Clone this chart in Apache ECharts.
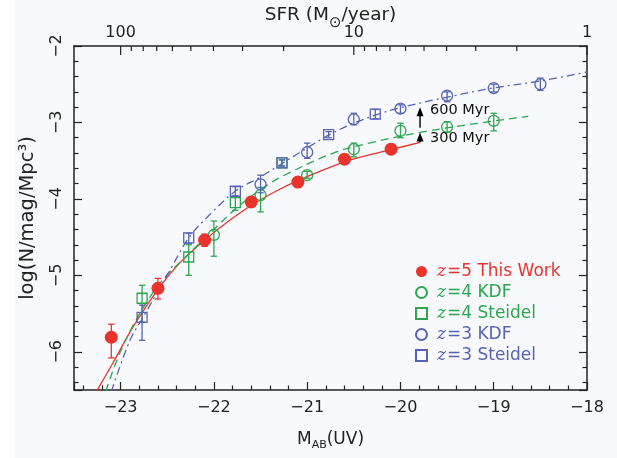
<!DOCTYPE html>
<html><head><meta charset="utf-8">
<script src="https://cdn.jsdelivr.net/npm/echarts@6/dist/echarts.min.js"></script>
<style>html,body{margin:0;padding:0;background:#f8f9fd}#c{width:617px;height:458px}</style>
</head><body><div id="c"></div>
<script>
// ---- axis ranges & ticks ----
const xMin = -23.5, xMax = -18;
const yMin = -6.5, yMax = -2;
const sfrMin = 1, sfrMax = 158.5;
const sfrTicks = [1,2,3,4,5,6,7,8,9,10,20,30,40,50,60,70,80,90,100];
const sfrLabels = [1,10,100];

// ---- z=5 This Work (red filled circles) ----
const red_M    = [-23.1, -22.6, -22.1, -21.6, -21.1, -20.6, -20.1];
const red_logN = [-5.81, -5.17, -4.54, -4.04, -3.78, -3.48, -3.35];
const red_lo   = [-6.08, -5.31, -4.62, -4.10, -3.83, -3.53, -3.40];
const red_hi   = [-5.64, -5.04, -4.46, -3.98, -3.73, -3.43, -3.30];

// ---- z=4 KDF (green circles) ----
const g4k_M    = [-22.0, -21.5, -21.0, -20.5, -20.0, -19.5, -19.0];
const g4k_logN = [-4.47, -3.95, -3.69, -3.35, -3.11, -3.06, -2.98];
const g4k_lo   = [-4.75, -4.17, -3.73, -3.45, -3.20, -3.13, -3.11];
const g4k_hi   = [-4.29, -3.85, -3.64, -3.27, -3.01, -2.99, -2.88];

// ---- z=4 Steidel (green squares) ----
const g4s_M    = [-22.77, -22.27, -21.77, -21.27];
const g4s_logN = [-5.30, -4.76, -4.05, -3.53];
const g4s_lo   = [-5.61, -5.00, -4.15, -3.57];
const g4s_hi   = [-5.13, -4.60, -3.97, -3.49];

// ---- z=3 KDF (blue circles) ----
const b3k_M    = [-21.5, -21.0, -20.5, -20.0, -19.5, -19.0, -18.5];
const b3k_logN = [-3.81, -3.39, -2.96, -2.82, -2.65, -2.55, -2.50];
const b3k_lo   = [-3.92, -3.47, -3.03, -2.88, -2.73, -2.60, -2.58];
const b3k_hi   = [-3.69, -3.27, -2.88, -2.77, -2.60, -2.50, -2.42];

// ---- z=3 Steidel (blue squares) ----
const b3s_M    = [-22.77, -22.27, -21.77, -21.27, -20.77, -20.27];
const b3s_logN = [-5.55, -4.51, -3.90, -3.53, -3.16, -2.89];
const b3s_lo   = [-5.85, -4.58, -3.96, -3.57, -3.20, -2.95];
const b3s_hi   = [-5.39, -4.45, -3.84, -3.49, -3.12, -2.83];

// ---- fitted curves ----
const fitRed_M    = [-23.26, -23.08, -22.87, -22.58, -22.36, -22.07, -21.83, -21.58, -21.29, -21.08, -20.56, -20.08, -19.79];
const fitRed_logN = [-6.52, -6.14, -5.68, -5.15, -4.83, -4.51, -4.28, -4.07, -3.87, -3.75, -3.50, -3.35, -3.26];
const fitGreen_M    = [-23.16, -23.01, -22.79, -22.55, -22.26, -22.01, -21.72, -21.43, -21.26, -20.72, -20.30, -19.79, -19.22, -18.63];
const fitGreen_logN = [-6.52, -6.02, -5.49, -5.06, -4.71, -4.41, -4.08, -3.82, -3.70, -3.40, -3.26, -3.13, -3.02, -2.92];
const fitBlue_M    = [-23.10, -22.90, -22.76, -22.47, -22.27, -22.04, -21.76, -21.51, -21.26, -20.97, -20.76, -20.54, -20.26, -20.01, -19.58, -19.01, -18.51, -18.00];
const fitBlue_logN = [-6.52, -5.85, -5.55, -4.93, -4.51, -4.20, -3.89, -3.72, -3.53, -3.31, -3.16, -3.03, -2.90, -2.81, -2.69, -2.55, -2.46, -2.34];

// ---- age arrows ----
const arrow_M     = [-19.79, -19.79];
const arrow_from  = [-3.26, -3.07];
const arrow_to    = [-3.13, -2.80];
const arrow_text  = ['300 Myr', '600 Myr'];
const arrow_textY = [-3.21, -2.84];

// ---- styling ----
const RED = '#e8342c', GREEN = '#2ca64e', BLUE = '#5763b2', INK = '#222';
const FONT = "'DejaVu Sans', sans-serif";

const zip2 = (a, b) => a.map((v, i) => [v, b[i]]);
const zip3 = (a, b, c) => a.map((v, i) => [v, b[i], c[i]]);
const minus = v => (v < 0 ? '\u2212' : '') + Math.abs(v);

function errSeries(M, lo, hi, color) {
  return {
    type: 'custom', xAxisIndex: 0, yAxisIndex: 0, z: 4,
    data: zip3(M, lo, hi), encode: {x: 0, y: [1, 2]},
    renderItem: (params, api) => {
      const x = api.value(0);
      const a = api.coord([x, api.value(2)]);
      const b = api.coord([x, api.value(1)]);
      const w = 3.2;
      const st = {stroke: color, lineWidth: 1.3};
      return {type: 'group', children: [
        {type: 'line', shape: {x1: a[0], y1: a[1], x2: b[0], y2: b[1]}, style: st},
        {type: 'line', shape: {x1: a[0] - w, y1: a[1], x2: a[0] + w, y2: a[1]}, style: st},
        {type: 'line', shape: {x1: b[0] - w, y1: b[1], x2: b[0] + w, y2: b[1]}, style: st}
      ]};
    }
  };
}
function fitSeries(M, L, color, type) {
  return {type: 'line', data: zip2(M, L), smooth: 0.35, showSymbol: false, silent: true, z: 2,
    lineStyle: {color: color, width: 1.3, type: type}};
}
function scatter(name, M, L, color, symbol, size, filled) {
  return {type: 'scatter', name: name, data: zip2(M, L), symbol: symbol, symbolSize: size, z: 5,
    itemStyle: filled ? {color: color, opacity: 1} : {color: 'transparent', borderColor: color, borderWidth: 1.3, opacity: 1}};
}

const chart = echarts.init(document.getElementById('c'), null, {renderer: 'canvas'});
const legendKey = {'z=5 This Work': 'r', 'z=4 KDF': 'g', 'z=4 Steidel': 'g', 'z=3 KDF': 'b', 'z=3 Steidel': 'b'};
const rich = {};
[['r', RED], ['g', GREEN], ['b', BLUE]].forEach(([k, c]) => {
  rich['z' + k] = {color: c, fontFamily: "'DejaVu Serif', serif", fontStyle: 'italic', fontSize: 17, padding: [0, 1, 0, 5]};
  rich['t' + k] = {color: c, fontFamily: FONT, fontSize: 17};
});

const option = {
  backgroundColor: '#f8f9fd',
  animation: false,
  graphic: [{type: 'rect', left: 0, top: 0, shape: {width: 15, height: 458}, style: {fill: '#ffffff'}, z: -10}],
  grid: {left: 74, right: 30, top: 46, bottom: 68},
  xAxis: [
    {type: 'value', position: 'bottom', min: xMin, max: xMax, minInterval: 1, maxInterval: 1,
     name: '{a|M}{b|AB}{a|(UV)}', nameLocation: 'middle', nameGap: 41,
     nameTextStyle: {rich: {a: {fontFamily: FONT, fontSize: 17, color: INK, verticalAlign: 'top'},
                            b: {fontFamily: FONT, fontSize: 11, color: INK, verticalAlign: 'top', padding: [9, 0, 0, 0]}}},
     axisLine: {show: true, onZero: false, lineStyle: {color: INK, width: 1.5}},
     axisTick: {show: true, inside: true, length: 8, lineStyle: {color: INK, width: 1.2}},
     minorTick: {show: true, splitNumber: 5, length: 4.5, lineStyle: {color: INK, width: 1.2}},
     splitLine: {show: false}, minorSplitLine: {show: false},
     axisLabel: {showMinLabel: false, margin: 10, fontFamily: FONT, fontSize: 16, color: INK, formatter: minus}},
    {type: 'log', position: 'top', min: sfrMin, max: sfrMax, inverse: true,
     name: '{a|SFR (M}{b|\u2299}{a|/year)}', nameLocation: 'middle', nameGap: 15,
     nameTextStyle: {rich: {a: {fontFamily: FONT, fontSize: 18.5, color: INK, verticalAlign: 'top'},
                            b: {fontFamily: FONT, fontSize: 15, color: INK, verticalAlign: 'top', padding: [10, 0, 0, 0]}}},
     axisLine: {show: true, onZero: false, lineStyle: {color: INK, width: 1.5}},
     axisTick: {show: false}, axisLabel: {show: false}, splitLine: {show: false}}
  ],
  yAxis: [
    {type: 'value', position: 'left', min: yMin, max: yMax, minInterval: 1, maxInterval: 1,
     name: 'log(N/mag/Mpc\u00b3)', nameLocation: 'middle', nameGap: 36, nameRotate: 90,
     nameTextStyle: {fontFamily: FONT, fontSize: 19.5, color: INK},
     axisLine: {show: true, onZero: false, lineStyle: {color: INK, width: 1.5}},
     axisTick: {show: true, inside: true, length: 8, lineStyle: {color: INK, width: 1.2}},
     minorTick: {show: true, splitNumber: 5, length: 4.5, lineStyle: {color: INK, width: 1.2}},
     splitLine: {show: false}, minorSplitLine: {show: false},
     axisLabel: {showMinLabel: false, rotate: 90, margin: 9, fontFamily: FONT, fontSize: 16, color: INK, formatter: minus}},
    {type: 'value', position: 'right', min: yMin, max: yMax, minInterval: 1, maxInterval: 1,
     axisLine: {show: true, onZero: false, lineStyle: {color: INK, width: 1.5}},
     axisTick: {show: true, inside: true, length: 8, lineStyle: {color: INK, width: 1.2}},
     minorTick: {show: true, splitNumber: 5, length: 4.5, lineStyle: {color: INK, width: 1.2}},
     splitLine: {show: false}, minorSplitLine: {show: false}, axisLabel: {show: false}}
  ],
  legend: {
    orient: 'vertical', left: 415, top: 263, itemWidth: 11, itemHeight: 11, itemGap: 4,
    selectedMode: false, padding: 0,
    data: ['z=5 This Work', 'z=4 KDF', 'z=4 Steidel', 'z=3 KDF', 'z=3 Steidel'],
    formatter: name => {
      const k = legendKey[name];
      return '{z' + k + '|z}{t' + k + '|' + name.slice(1) + '}';
    },
    textStyle: {rich: rich}
  },
  series: [
    fitSeries(fitRed_M, fitRed_logN, RED, 'solid'),
    fitSeries(fitGreen_M, fitGreen_logN, GREEN, [8, 5]),
    fitSeries(fitBlue_M, fitBlue_logN, BLUE, [8, 4, 2, 4]),
    errSeries(red_M, red_lo, red_hi, RED),
    errSeries(g4k_M, g4k_lo, g4k_hi, GREEN),
    errSeries(g4s_M, g4s_lo, g4s_hi, GREEN),
    errSeries(b3k_M, b3k_lo, b3k_hi, BLUE),
    errSeries(b3s_M, b3s_lo, b3s_hi, BLUE),
    scatter('z=4 Steidel', g4s_M, g4s_logN, GREEN, 'rect', 10, false),
    scatter('z=3 Steidel', b3s_M, b3s_logN, BLUE, 'rect', 10, false),
    scatter('z=4 KDF', g4k_M, g4k_logN, GREEN, 'circle', 11, false),
    scatter('z=3 KDF', b3k_M, b3k_logN, BLUE, 'circle', 11, false),
    scatter('z=5 This Work', red_M, red_logN, RED, 'circle', 13, true),
    {
      type: 'custom', xAxisIndex: 1, yAxisIndex: 0, clip: false, silent: true, z: 6,
      data: sfrTicks.map(v => [v, yMax]), encode: {x: 0, y: 1},
      renderItem: (params, api) => {
        const v = api.value(0);
        const p = api.coord([v, api.value(1)]);
        const major = sfrLabels.indexOf(v) >= 0;
        const ch = [{type: 'line', shape: {x1: p[0], y1: p[1], x2: p[0], y2: p[1] + (major ? 9 : 5)},
                     style: {stroke: INK, lineWidth: 1.2}}];
        if (major) ch.push({type: 'text', x: p[0], y: p[1] - 5,
          style: {text: String(v), fill: INK, font: '16px ' + FONT, align: 'center', verticalAlign: 'bottom'}});
        return {type: 'group', children: ch};
      }
    },
    {
      type: 'custom', xAxisIndex: 0, yAxisIndex: 0, clip: false, silent: true, z: 7,
      data: arrow_M.map((m, i) => [m, arrow_from[i], arrow_to[i], arrow_textY[i], i]),
      encode: {x: 0, y: [1, 2]},
      renderItem: (params, api) => {
        const m = api.value(0);
        const a = api.coord([m, api.value(1)]);
        const b = api.coord([m, api.value(2)]);
        const t = api.coord([m, api.value(3)]);
        const head = 9, hw = 3.5;
        return {type: 'group', children: [
          {type: 'line', shape: {x1: a[0], y1: a[1], x2: b[0], y2: b[1] + head - 1}, style: {stroke: '#000', lineWidth: 1.4}},
          {type: 'polygon', shape: {points: [[b[0], b[1]], [b[0] - hw, b[1] + head], [b[0] + hw, b[1] + head]]}, style: {fill: '#000'}},
          {type: 'text', x: t[0] + 10, y: t[1], style: {text: arrow_text[api.value(4)], fill: '#111', font: '14.5px ' + FONT, align: 'left', verticalAlign: 'middle'}}
        ]};
      }
    }
  ]
};
chart.setOption(option);
</script></body></html>
